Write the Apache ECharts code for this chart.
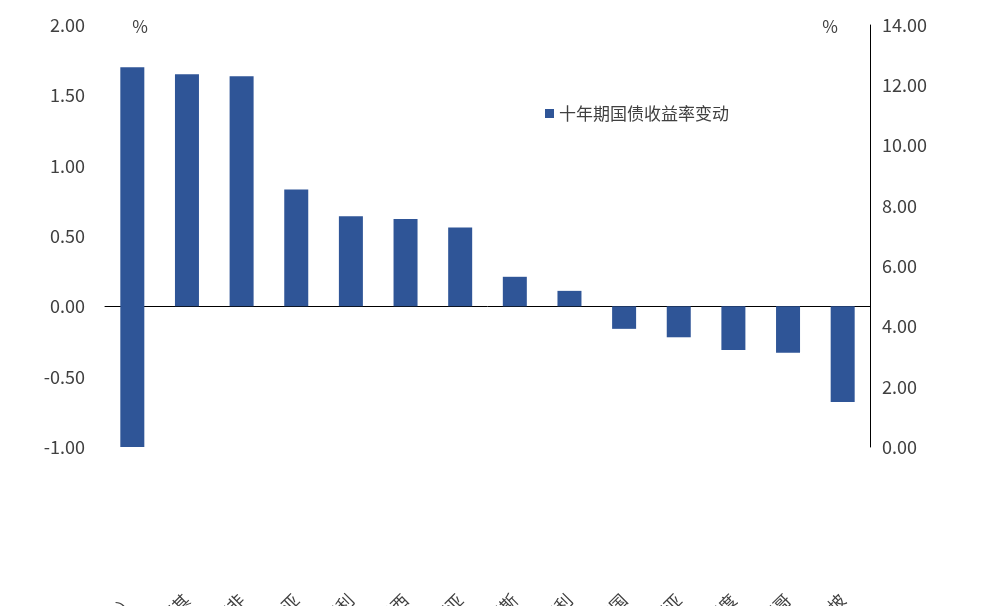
<!DOCTYPE html>
<html><head><meta charset="utf-8">
<script src="https://cdn.jsdelivr.net/npm/echarts@6/dist/echarts.min.js"></script>
<style>html,body{margin:0;padding:0;background:#fff}#c{width:985px;height:606px}</style>
</head><body><div id="c"></div>
<script>
const categories=['阿根廷（右轴）','土耳其','南非','哥伦比亚','匈牙利','巴西','印度尼西亚','俄罗斯','智利','韩国','马来西亚','印度','墨西哥','新加坡'];
const leftValues=[null,1.65,1.635,0.83,0.64,0.62,0.56,0.21,0.11,-0.16,-0.22,-0.31,-0.33,-0.68];
const rightValues=[12.6,null,null,null,null,null,null,null,null,null,null,null,null,null];
const leftTicks={min:-1,max:2,interval:0.5};
const rightTicks={min:0,max:14,interval:2};
const color='#2F5597';
const font='"Noto Sans CJK SC", sans-serif';
const chart=echarts.init(document.getElementById('c'));
chart.setOption({
 animation:false,
 grid:{left:105,right:115,top:25,bottom:159,containLabel:false,outerBoundsMode:'none'},
 legend:{data:['十年期国债收益率变动'],left:540,top:100,icon:'rect',itemWidth:9,itemHeight:9,
   textStyle:{fontFamily:font,fontSize:17,color:'#404040'}},
 xAxis:{type:'category',data:categories,
   axisLine:{onZero:true,lineStyle:{color:'#000'}},axisTick:{show:false},
   axisLabel:{rotate:45,interval:0,fontFamily:font,fontSize:17,color:'#404040',margin:150,align:'right',verticalAlign:'middle'}},
 yAxis:[
  {type:'value',min:leftTicks.min,max:leftTicks.max,interval:leftTicks.interval,name:'%',nameGap:-10,
   nameLocation:'end',nameTextStyle:{fontFamily:font,fontSize:17,color:'#404040',padding:[0,0,0,70]},
   axisLine:{show:false},axisTick:{show:false},splitLine:{show:false},
   axisLabel:{formatter:v=>v.toFixed(2),fontFamily:font,fontSize:18,color:'#404040',margin:20}},
  {type:'value',min:rightTicks.min,max:rightTicks.max,interval:rightTicks.interval,name:'%',nameGap:-10,
   nameTextStyle:{fontFamily:font,fontSize:17,color:'#404040',padding:[0,80,0,0]},
   axisLine:{show:true,lineStyle:{color:'#000'}},axisTick:{show:false},splitLine:{show:false},
   axisLabel:{formatter:v=>v.toFixed(2),fontFamily:font,fontSize:18,color:'#404040',margin:12}}
 ],
 series:[
  {name:'十年期国债收益率变动',type:'bar',yAxisIndex:0,data:leftValues,barWidth:24,barGap:'-100%',itemStyle:{color:color}},
  {name:'阿根廷',type:'bar',yAxisIndex:1,data:rightValues,barWidth:24,itemStyle:{color:color}}
 ]
});
</script></body></html>
